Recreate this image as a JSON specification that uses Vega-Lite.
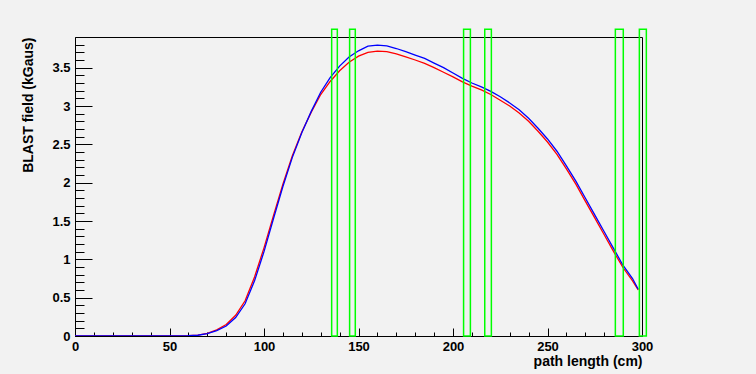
{
  "$schema": "https://vega.github.io/schema/vega-lite/v6.json",
  "width": 567,
  "height": 299,
  "autosize": {"type": "none"},
  "padding": {"left": 75, "top": 37, "right": 114, "bottom": 38},
  "background": "#f2f2f2",
  "config": {
    "view": {"stroke": "black", "strokeWidth": 1},
    "axis": {
      "labelFont": "Liberation Sans", "labelFontWeight": "bold", "labelFontSize": 13, "labelColor": "black",
      "titleFont": "Liberation Sans", "titleFontWeight": "bold", "titleFontSize": 14, "titleColor": "black",
      "domainColor": "black", "tickColor": "black", "grid": false, "labelFlush": false
    }
  },
  "datasets": {
    "curves": [
      {"x": 0, "y": 0, "series": "red"}, {"x": 50, "y": 0, "series": "red"}, {"x": 60, "y": 0.004, "series": "red"},
      {"x": 65, "y": 0.012, "series": "red"}, {"x": 70, "y": 0.035, "series": "red"}, {"x": 75, "y": 0.08, "series": "red"},
      {"x": 80, "y": 0.15, "series": "red"}, {"x": 85, "y": 0.27, "series": "red"}, {"x": 90, "y": 0.46, "series": "red"},
      {"x": 95, "y": 0.77, "series": "red"}, {"x": 100, "y": 1.15, "series": "red"}, {"x": 105, "y": 1.57, "series": "red"},
      {"x": 110, "y": 1.98, "series": "red"}, {"x": 115, "y": 2.35, "series": "red"}, {"x": 120, "y": 2.66, "series": "red"},
      {"x": 125, "y": 2.92, "series": "red"}, {"x": 130, "y": 3.15, "series": "red"}, {"x": 135, "y": 3.32, "series": "red"},
      {"x": 140, "y": 3.46, "series": "red"}, {"x": 145, "y": 3.57, "series": "red"}, {"x": 150, "y": 3.65, "series": "red"},
      {"x": 155, "y": 3.7, "series": "red"}, {"x": 160, "y": 3.715, "series": "red"}, {"x": 165, "y": 3.71, "series": "red"},
      {"x": 170, "y": 3.68, "series": "red"}, {"x": 175, "y": 3.64, "series": "red"}, {"x": 180, "y": 3.6, "series": "red"},
      {"x": 185, "y": 3.555, "series": "red"}, {"x": 190, "y": 3.5, "series": "red"}, {"x": 195, "y": 3.44, "series": "red"},
      {"x": 200, "y": 3.38, "series": "red"}, {"x": 205, "y": 3.315, "series": "red"}, {"x": 210, "y": 3.26, "series": "red"},
      {"x": 215, "y": 3.21, "series": "red"}, {"x": 220, "y": 3.15, "series": "red"}, {"x": 225, "y": 3.075, "series": "red"},
      {"x": 230, "y": 3.0, "series": "red"}, {"x": 235, "y": 2.91, "series": "red"}, {"x": 240, "y": 2.8, "series": "red"},
      {"x": 245, "y": 2.67, "series": "red"}, {"x": 250, "y": 2.53, "series": "red"}, {"x": 255, "y": 2.37, "series": "red"},
      {"x": 260, "y": 2.18, "series": "red"}, {"x": 265, "y": 1.98, "series": "red"}, {"x": 270, "y": 1.76, "series": "red"},
      {"x": 275, "y": 1.54, "series": "red"}, {"x": 280, "y": 1.32, "series": "red"}, {"x": 285, "y": 1.1, "series": "red"},
      {"x": 290, "y": 0.89, "series": "red"}, {"x": 295, "y": 0.72, "series": "red"}, {"x": 298, "y": 0.6, "series": "red"},
      {"x": 0, "y": 0, "series": "blue"}, {"x": 50, "y": 0, "series": "blue"}, {"x": 60, "y": 0.003, "series": "blue"},
      {"x": 65, "y": 0.01, "series": "blue"}, {"x": 70, "y": 0.03, "series": "blue"}, {"x": 75, "y": 0.07, "series": "blue"},
      {"x": 80, "y": 0.13, "series": "blue"}, {"x": 85, "y": 0.24, "series": "blue"}, {"x": 90, "y": 0.42, "series": "blue"},
      {"x": 95, "y": 0.72, "series": "blue"}, {"x": 100, "y": 1.1, "series": "blue"}, {"x": 105, "y": 1.53, "series": "blue"},
      {"x": 110, "y": 1.95, "series": "blue"}, {"x": 115, "y": 2.33, "series": "blue"}, {"x": 120, "y": 2.65, "series": "blue"},
      {"x": 125, "y": 2.93, "series": "blue"}, {"x": 130, "y": 3.18, "series": "blue"}, {"x": 135, "y": 3.37, "series": "blue"},
      {"x": 140, "y": 3.52, "series": "blue"}, {"x": 145, "y": 3.64, "series": "blue"}, {"x": 150, "y": 3.72, "series": "blue"},
      {"x": 155, "y": 3.78, "series": "blue"}, {"x": 160, "y": 3.795, "series": "blue"}, {"x": 165, "y": 3.785, "series": "blue"},
      {"x": 170, "y": 3.75, "series": "blue"}, {"x": 175, "y": 3.71, "series": "blue"}, {"x": 180, "y": 3.665, "series": "blue"},
      {"x": 185, "y": 3.62, "series": "blue"}, {"x": 190, "y": 3.56, "series": "blue"}, {"x": 195, "y": 3.5, "series": "blue"},
      {"x": 200, "y": 3.43, "series": "blue"}, {"x": 205, "y": 3.36, "series": "blue"}, {"x": 210, "y": 3.3, "series": "blue"},
      {"x": 215, "y": 3.25, "series": "blue"}, {"x": 220, "y": 3.19, "series": "blue"}, {"x": 225, "y": 3.12, "series": "blue"},
      {"x": 230, "y": 3.04, "series": "blue"}, {"x": 235, "y": 2.95, "series": "blue"}, {"x": 240, "y": 2.84, "series": "blue"},
      {"x": 245, "y": 2.71, "series": "blue"}, {"x": 250, "y": 2.57, "series": "blue"}, {"x": 255, "y": 2.41, "series": "blue"},
      {"x": 260, "y": 2.22, "series": "blue"}, {"x": 265, "y": 2.02, "series": "blue"}, {"x": 270, "y": 1.8, "series": "blue"},
      {"x": 275, "y": 1.58, "series": "blue"}, {"x": 280, "y": 1.36, "series": "blue"}, {"x": 285, "y": 1.14, "series": "blue"},
      {"x": 290, "y": 0.92, "series": "blue"}, {"x": 295, "y": 0.75, "series": "blue"}, {"x": 298, "y": 0.61, "series": "blue"}
    ],
    "boxes": [
      {"x1": 135.8, "x2": 138.8, "bottom": 0, "top": 4.0},
      {"x1": 145.3, "x2": 148.3, "bottom": 0, "top": 4.0},
      {"x1": 205.6, "x2": 209.2, "bottom": 0, "top": 4.0},
      {"x1": 216.8, "x2": 220.3, "bottom": 0, "top": 4.0},
      {"x1": 285.9, "x2": 290.1, "bottom": 0, "top": 4.0},
      {"x1": 298.6, "x2": 302.3, "bottom": 0, "top": 4.0}
    ]
  },
  "layer": [
    {
      "data": {"name": "curves"},
      "transform": [{"filter": "datum.series === 'red'"}],
      "mark": {"type": "line", "color": "#ff0000", "strokeWidth": 1.3, "clip": true},
      "encoding": {
        "x": {"field": "x", "type": "quantitative", "scale": {"domain": [0, 300], "nice": false, "zero": false},
          "axis": {"orient": "bottom", "title": "path length (cm)", "values": [0, 50, 100, 150, 200, 250, 300], "format": "d",
            "tickSize": -8, "labelPadding": 12, "titleAnchor": "end", "titlePadding": 1}},
        "y": {"field": "y", "type": "quantitative", "scale": {"domain": [0, 3.9], "nice": false, "zero": false},
          "axis": {"orient": "left", "title": "BLAST field (kGaus)", "values": [0, 0.5, 1, 1.5, 2, 2.5, 3, 3.5], "format": "~g",
            "tickSize": -17, "labelPadding": 22, "titleAnchor": "end", "titlePadding": 16}}
      }
    },
    {
      "data": {"name": "curves"},
      "transform": [{"filter": "datum.series === 'blue'"}],
      "mark": {"type": "line", "color": "#0000ff", "strokeWidth": 1.3, "clip": true},
      "encoding": {
        "x": {"field": "x", "type": "quantitative", "axis": null},
        "y": {"field": "y", "type": "quantitative", "axis": null}
      }
    },
    {
      "data": {"name": "boxes"},
      "mark": {"type": "rect", "fill": "transparent", "stroke": "#00ff00", "strokeWidth": 1.5, "clip": false},
      "encoding": {
        "x": {"field": "x1", "type": "quantitative",
          "axis": {"orient": "bottom", "title": null, "labels": false, "domain": false, "tickSize": -4,
            "values": [10, 20, 30, 40, 60, 70, 80, 90, 110, 120, 130, 140, 160, 170, 180, 190, 210, 220, 230, 240, 260, 270, 280, 290]}},
        "x2": {"field": "x2"},
        "y": {"field": "bottom", "type": "quantitative",
          "axis": {"orient": "left", "title": null, "labels": false, "domain": false, "tickSize": -9,
            "values": [0.1, 0.2, 0.3, 0.4, 0.6, 0.7, 0.8, 0.9, 1.1, 1.2, 1.3, 1.4, 1.6, 1.7, 1.8, 1.9, 2.1, 2.2, 2.3, 2.4, 2.6, 2.7, 2.8, 2.9, 3.1, 3.2, 3.3, 3.4, 3.6, 3.7, 3.8]}},
        "y2": {"field": "top"}
      }
    }
  ],
  "resolve": {"axis": {"x": "independent", "y": "independent"}}
}
